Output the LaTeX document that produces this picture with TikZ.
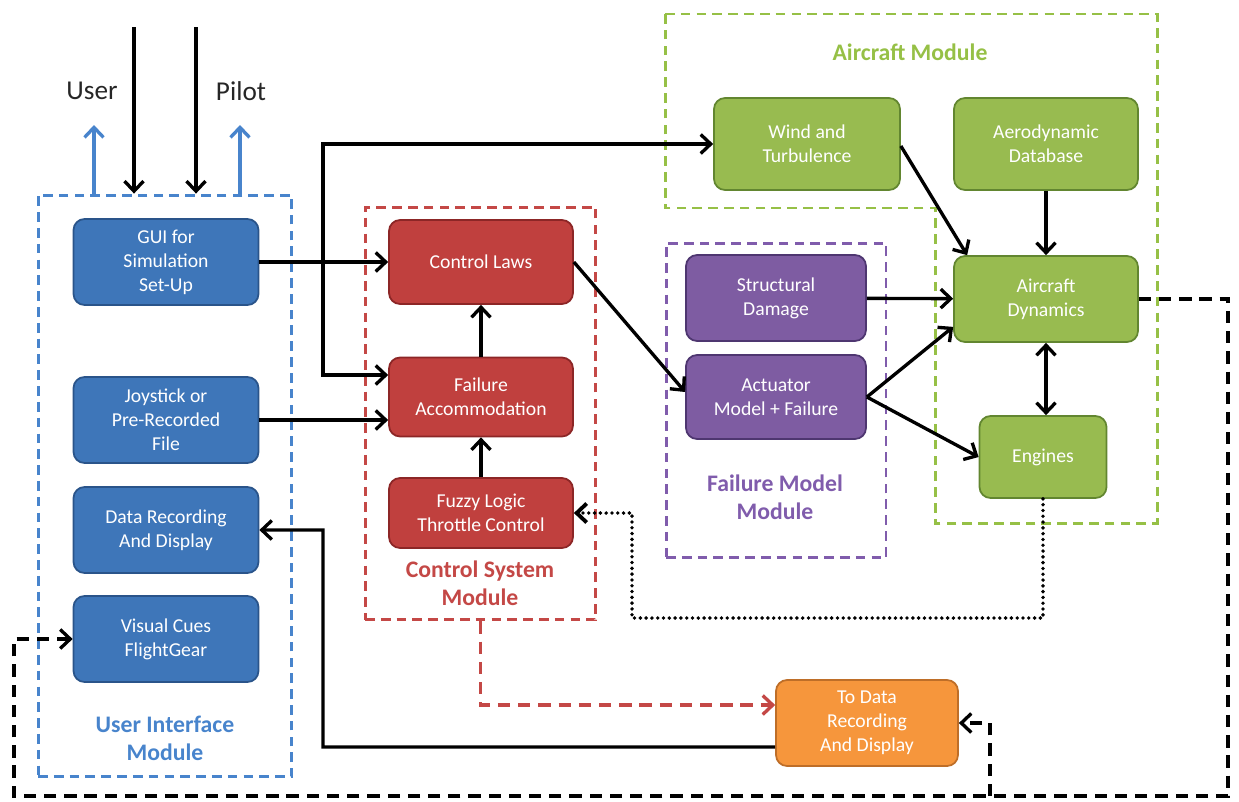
\documentclass[tikz,border=0pt]{standalone}
\usepackage{fontspec}
\setmainfont{Carlito}
\usetikzlibrary{arrows.meta}
\definecolor{uifill}{RGB}{62,118,185}
\definecolor{uidraw}{RGB}{42,84,138}
\definecolor{uiline}{RGB}{72,132,204}
\definecolor{csfill}{RGB}{192,64,62}
\definecolor{csdraw}{RGB}{140,38,38}
\definecolor{csline}{RGB}{196,72,70}
\definecolor{fmfill}{RGB}{126,92,162}
\definecolor{fmdraw}{RGB}{78,54,112}
\definecolor{fmline}{RGB}{128,92,172}
\definecolor{acfill}{RGB}{152,187,80}
\definecolor{acdraw}{RGB}{98,134,48}
\definecolor{acline}{RGB}{150,192,70}
\definecolor{drfill}{RGB}{246,150,60}
\definecolor{drdraw}{RGB}{190,110,40}
\tikzset{
  blk/.style={rounded corners=0.22cm, draw, line width=1pt, text=white,
    align=center, inner sep=0pt, font=\fontsize{11.2}{13.6}\selectfont,
    minimum width=3.7cm, minimum height=1.72cm},
  uibox/.style={blk, fill=uifill, draw=uidraw},
  csbox/.style={blk, fill=csfill, draw=csdraw, minimum width=3.68cm},
  fmbox/.style={blk, fill=fmfill, draw=fmdraw, minimum width=3.6cm},
  acbox/.style={blk, fill=acfill, draw=acdraw, minimum width=3.68cm},
  drbox/.style={blk, fill=drfill, draw=drdraw, minimum width=3.64cm},
  module/.style={line width=1.7pt, dash pattern=on 5.5pt off 3.5pt},
  modlabel/.style={font=\fontsize{13.5}{16}\selectfont\bfseries, align=center},
  tip/.tip={Straight Barb[length=2mm,width=3.8mm]},
  arr/.style={-tip, line width=1.9pt},
  dblarr/.style={tip-tip, line width=1.9pt},
  dasharr/.style={arr, dash pattern=on 7pt off 4.5pt},
  dotarr/.style={arr, line cap=round, dash pattern=on 0pt off 3.3pt, line width=2.2pt},
}

\begin{document}
\begin{tikzpicture}[x=0.02cm, y=-0.02cm]
\useasboundingbox (0,0) rectangle (1239,801);

% module frames
\node[module, draw=uiline, minimum width=5.08cm, minimum height=11.64cm] (uim) at (165,486) {};
\node[module, draw=csline, minimum width=4.62cm, minimum height=8.26cm] (csm) at (480.5,413.5) {};
\node[module, draw=fmline, minimum width=4.4cm, minimum height=6.3cm] (fmm) at (776,400.5) {};
\draw[module, draw=acline] (665,14) -- (1157,14) -- (1157,523) -- (935,523) -- (935,208) -- (665,208) -- cycle;

\node[modlabel, text=uiline] (uimlabel) at (165,738) {User Interface\\Module};
\node[modlabel, text=csline] (csmlabel) at (480,583) {Control System\\Module};
\node[modlabel, text=fmline] (fmmlabel) at (775,497) {Failure Model\\Module};
\node[modlabel, text=acline] (acmlabel) at (910,52) {Aircraft Module};

% user interface
\node[uibox] (gui) at (166,262) {GUI for\\Simulation\\Set-Up};
\node[uibox] (joystick) at (166,420) {Joystick or\\Pre-Recorded\\File};
\node[uibox] (datarec) at (166,530) {Data Recording\\And Display};
\node[uibox] (visual) at (166,639) {Visual Cues\\FlightGear};

% control system
\node[csbox, minimum height=1.68cm] (ctrllaws) at (481,262) {Control Laws};
\node[csbox, minimum height=1.58cm] (failacc) at (481,397) {Failure\\Accommodation};
\node[csbox, minimum height=1.4cm] (fuzzy) at (481,513) {Fuzzy Logic\\Throttle Control};

% failure model
\node[fmbox] (structdmg) at (776,298) {Structural\\Damage};
\node[fmbox, minimum height=1.68cm] (actuator) at (776,397) {Actuator\\Model + Failure};

% aircraft
\node[acbox, minimum height=1.84cm, minimum width=3.72cm] (wind) at (807,144) {Wind and\\Turbulence};
\node[acbox, minimum height=1.84cm] (aerodb) at (1046,144) {Aerodynamic\\Database};
\node[acbox] (acdyn) at (1046,299) {Aircraft\\Dynamics};
\node[acbox, minimum width=2.54cm, minimum height=1.64cm] (engines) at (1043,457) {Engines};

\node[drbox] (todata) at (867,723) {To Data\\Recording\\And Display};

% user / pilot
\node[font=\fontsize{15.5}{18}\selectfont, text=black!85] (user) at (92,91) {User};
\node[font=\fontsize{15.5}{18}\selectfont, text=black!85] (pilot) at (241,91) {Pilot};
\coordinate (userin) at (134,27);
\coordinate (pilotin) at (196,27);
\coordinate (userout) at (94,125);
\coordinate (pilotout) at (240,125);
\draw[arr] (userin) -- (userin |- uim.north);
\draw[arr] (pilotin) -- (pilotin |- uim.north);
\draw[arr, draw=uiline] (userout |- uim.north) -- (userout);
\draw[arr, draw=uiline] (pilotout |- uim.north) -- (pilotout);

% signal flow
\coordinate (split) at (323,262);
\draw[arr] (gui) -- (ctrllaws);
\draw[arr] (split) |- (wind);
\draw[arr] (split) |- ([yshift=0.44cm]failacc.west);
\draw[arr] (joystick) -- (joystick -| failacc.west);
\draw[arr] (failacc) -- (ctrllaws);
\draw[arr] (fuzzy) -- (failacc);
\draw[arr] (ctrllaws.east) -- ([yshift=0.1cm]actuator.west);
\draw[arr] ([yshift=-0.04cm]wind.east) -- ([xshift=0.28cm]acdyn.north west);
\draw[arr] (aerodb) -- (acdyn);
\draw[arr] (structdmg) -- (acdyn);
\draw[arr] (actuator.east) -- ([yshift=0.32cm]acdyn.south west);
\draw[arr] (actuator.east) -- (engines.west);
\draw[dblarr] (acdyn.south) -- (acdyn.south |- engines.north);

% feedback paths
\coordinate (dotcorner) at (632,618);
\draw[dotarr] (engines.south) |- (dotcorner) |- (fuzzy.east);
\draw[dasharr, draw=csline] (csm.south) |- ([yshift=0.36cm]todata.west);
\coordinate (recturn) at (323,747);
\draw[arr] ([yshift=-0.48cm]todata.west) -- (recturn) |- (datarec.east);
\coordinate (fbright) at (1228,796);
\coordinate (fbleft) at (14,796);
\coordinate (fbsplit) at (990,796);
\draw[dasharr] (acdyn.east) -| (fbright) -- (fbleft) |- (visual.west);
\draw[dasharr] (fbsplit) |- (todata.east);
\end{tikzpicture}
\end{document}
